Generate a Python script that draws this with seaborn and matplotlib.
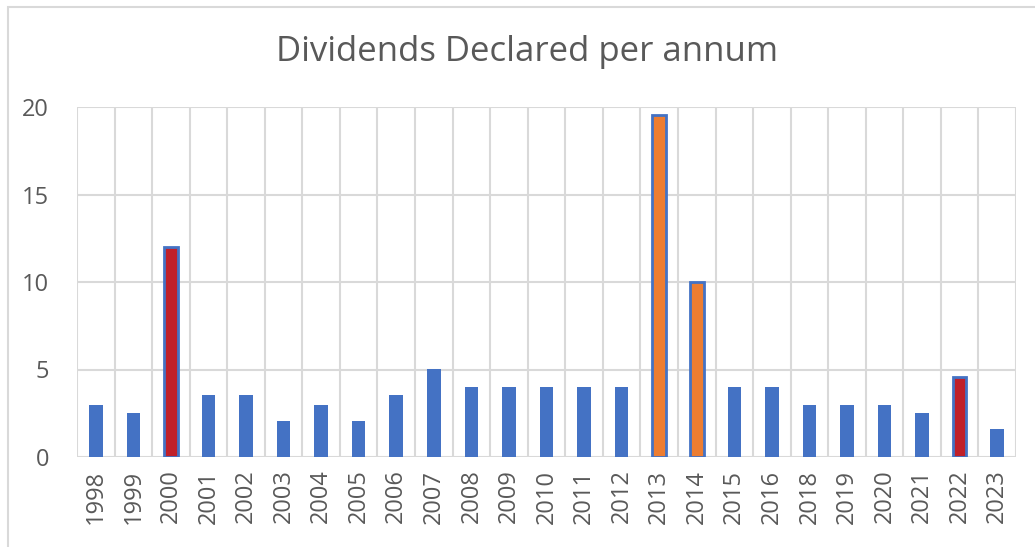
import numpy as np
import pandas as pd
import matplotlib
matplotlib.use("Agg")
import matplotlib.pyplot as plt
import matplotlib.patches as mpatches
import seaborn as sns

# ── data ──────────────────────────────────────────────────────────
YEARS = ["1998", "1999", "2000", "2001", "2002", "2003", "2004", "2005",
         "2006", "2007", "2008", "2009", "2010", "2011", "2012", "2013",
         "2014", "2015", "2016", "2018", "2019", "2020", "2021", "2022", "2023"]
DIVIDENDS = [3, 2.5, 12, 3.55, 3.55, 2.05, 3, 2.05,
             3.55, 5.05, 4, 4, 4, 4, 4, 19.55,
             10, 4, 4, 3, 3, 3, 2.5, 4.55, 1.6]
HIGHLIGHT = {"2000": "red", "2022": "red", "2013": "orange", "2014": "orange"}

BLUE = "#4472C4"
RED = "#C0202A"
ORANGE = "#ED7D31"
GRID = "#D9D9D9"
TEXT = "#595959"

sns.set_theme(style="white")
plt.rcParams["font.family"] = ["Open Sans", "DejaVu Sans"]

df = pd.DataFrame({"Year": YEARS, "Dividend": DIVIDENDS})
colors = {y: {"red": RED, "orange": ORANGE}.get(HIGHLIGHT.get(y), BLUE) for y in YEARS}

fig = plt.figure(figsize=(10.35, 5.47), dpi=100)
fig.patch.set_facecolor("white")
# outer chart frame (cut off at right / bottom like the screenshot)
fig.patches.append(mpatches.Rectangle((8 / 1035, -0.1), 1.2, 1 - 7 / 547 + 0.1,
                                      transform=fig.transFigure, fill=False,
                                      edgecolor=GRID, lw=1.5))

ax = fig.add_axes([77 / 1035, 90 / 547, 939 / 1035, 350 / 547])
sns.barplot(data=df, x="Year", y="Dividend", hue="Year", order=YEARS,
            palette=colors, legend=False, width=0.36, saturation=1, ax=ax, zorder=3)

for bar, y in zip(ax.patches, YEARS):
    if y in HIGHLIGHT:
        bar.set_edgecolor(BLUE)
        bar.set_linewidth(2)
    else:
        bar.set_edgecolor("none")

ax.set_xlim(-0.5, len(YEARS) - 0.5)
ax.set_ylim(0, 20)
ax.set_yticks([0, 5, 10, 15, 20])
ax.set_xticks(np.arange(-0.5, len(YEARS)), minor=True)
ax.grid(axis="y", which="major", color=GRID, lw=1.5, zorder=0)
ax.grid(axis="x", which="minor", color=GRID, lw=1.5, zorder=0)
ax.set_axisbelow(True)
for s in ax.spines.values():
    s.set_visible(False)

ax.tick_params(axis="x", which="both", length=0, pad=9, labelsize=17, labelcolor=TEXT,
               labelrotation=90)
ax.tick_params(axis="y", length=0, pad=20, labelsize=17, labelcolor=TEXT)
ax.set_xlabel("")
ax.set_ylabel("")

fig.text(527 / 1035, 1 - 52 / 547, "Dividends Declared per annum", ha="center", va="center",
         fontsize=25, color=TEXT)

fig.savefig("out.png", dpi=100, facecolor="white")
